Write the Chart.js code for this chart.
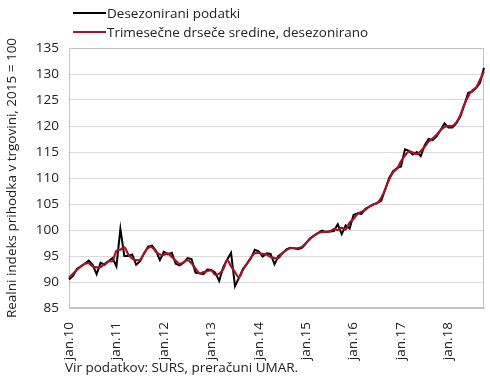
<!DOCTYPE html>
<html>
<head>
<meta charset="utf-8">
<script src="https://cdn.jsdelivr.net/npm/chart.js@4.4.1/dist/chart.umd.min.js"></script>
<style>
  body { margin: 0; background: #fff; font-family: "Open Sans", sans-serif; }
  #wrap { position: relative; width: 490px; height: 382px; }
  #wrap canvas { position: absolute; left: 0; top: 0; }
  .leg { position: absolute; left: 73px; font-size: 13.5px; color: #222; line-height: 18px; white-space: nowrap; }
  .leg span { display: inline-block; width: 33px; height: 2px; vertical-align: middle; margin-right: 1px; position: relative; top: -1px; }
  .note { position: absolute; left: 65px; top: 358px; font-size: 13.5px; color: #222; white-space: nowrap; }
</style>
</head>
<body>
<div id="wrap">
  <canvas id="c" width="490" height="382"></canvas>
  <div class="leg" style="top:4px"><span style="background:#000"></span>Desezonirani podatki</div>
  <div class="leg" style="top:23px"><span style="background:#a3152b"></span>Trimesečne drseče sredine, desezonirano</div>
  <div class="note">Vir podatkov: SURS, preračuni UMAR.</div>
</div>
<script>
const monthNames = ["jan", "feb", "mar", "apr", "maj", "jun", "jul", "avg", "sep", "okt", "nov", "dec"];
const years = ["10", "11", "12", "13", "14", "15", "16", "17", "18"];

// desezonirani podatki, jan.10 - okt.18
const rawIndex = [
  90.5, 91.2, 92.5, 93.0, 93.5, 94.1, 93.3, 91.5, 93.7, 93.3, 94.0, 94.6,
  93.0, 100.2, 95.0, 95.0, 95.3, 93.3, 94.0, 95.5, 96.8, 97.0, 96.0, 94.2,
  95.8, 95.3, 95.6, 93.5, 93.2, 93.7, 94.6, 94.4, 91.8, 91.7, 91.5, 92.4,
  92.3, 91.8, 90.2, 92.8, 94.3, 95.6, 89.2, 90.8, 92.5, 93.5, 94.5, 96.2,
  95.9, 94.9, 95.5, 95.4, 93.4, 95.0, 95.5, 96.3, 96.6, 96.5, 96.3, 96.6,
  97.5, 98.4, 98.9, 99.4, 99.9, 99.6, 99.7, 99.8, 101.1, 99.2, 100.9, 100.3,
  102.9, 103.2, 103.1, 104.1, 104.5, 104.9, 105.2, 105.6, 107.8, 110.0, 111.3, 111.9,
  112.2, 115.5, 115.2, 114.5, 115.0, 114.2, 116.3, 117.5, 117.3, 118.0, 119.2, 120.5,
  119.7, 119.7, 120.5, 121.8, 124.0, 126.4, 126.6, 127.3, 128.3, 131.2
];

// trimesečne drseče sredine
const movingAvg = [
  90.8, 91.6, 92.3, 93.0, 93.5, 93.6, 93.0, 92.8, 92.9, 93.5, 94.0, 94.0,
  96.0, 96.2, 96.7, 95.3, 94.5, 94.2, 94.3, 95.5, 96.5, 96.7, 95.8, 95.3,
  95.2, 95.5, 94.8, 94.1, 93.5, 93.8, 94.2, 93.6, 92.6, 91.7, 91.9, 92.1,
  92.2, 91.4, 91.6, 92.4, 94.2, 93.0, 91.9, 90.9, 92.3, 93.5, 94.7, 95.5,
  95.6, 95.4, 95.3, 94.8, 94.6, 94.6, 95.6, 96.1, 96.5, 96.5, 96.5, 96.8,
  97.5, 98.3, 98.9, 99.4, 99.6, 99.7, 99.7, 100.2, 100.0, 100.4, 100.1, 101.4,
  102.1, 103.1, 103.5, 103.9, 104.5, 104.9, 105.2, 106.2, 107.8, 109.7, 111.1, 111.8,
  113.2, 114.3, 115.1, 114.9, 114.6, 115.2, 116.0, 117.0, 117.6, 118.3, 119.2, 119.8,
  120.0, 120.0, 120.7, 122.1, 124.1, 125.7, 126.8, 127.4, 128.9, 130.5
];

const labels = [];
years.forEach(y => monthNames.forEach(m => labels.push(m + "." + y)));
labels.length = rawIndex.length;

const frame = {
  id: "frame",
  beforeDatasetsDraw(chart) {
    const { ctx, chartArea: a } = chart;
    ctx.save();
    ctx.strokeStyle = "#c4c4c4";
    ctx.lineWidth = 1;
    ctx.strokeRect(Math.round(a.left) + 0.5, Math.round(a.top) + 0.5, Math.round(a.width) - 1, Math.round(a.height) - 1);
    ctx.restore();
  }
};

Chart.defaults.font.family = '"Open Sans", sans-serif';
Chart.defaults.color = "#222";

new Chart(document.getElementById("c"), {
  type: "line",
  data: {
    labels: labels,
    datasets: [
      {
        label: "Trimesečne drseče sredine, desezonirano",
        data: movingAvg,
        borderColor: "#a3152b",
        borderWidth: 2.2,
        pointRadius: 0,
        tension: 0.35,
        order: 0
      },
      {
        label: "Desezonirani podatki",
        data: rawIndex,
        borderColor: "#000",
        borderWidth: 2,
        pointRadius: 0,
        tension: 0,
        order: 1
      }
    ]
  },
  options: {
    responsive: false,
    animation: false,
    layout: { padding: { top: 48, right: 6, left: 0, bottom: 0 } },
    plugins: { legend: { display: false }, tooltip: { enabled: false } },
    scales: {
      x: {
        grid: { display: false },
        border: { color: "#c4c4c4" },
        ticks: {
          autoSkip: false,
          maxRotation: 90,
          minRotation: 90,
          padding: 6,
          font: { size: 13.5 },
          callback: (v, i) => (i % 12 === 0 ? labels[i] : null)
        },
        afterFit: s => { s.height = 74; }
      },
      y: {
        min: 85,
        max: 135,
        ticks: { stepSize: 5, font: { size: 13.5 }, padding: 10 },
        grid: { color: "#d9d9d9", drawTicks: false },
        border: { color: "#c4c4c4" },
        title: { display: true, text: "Realni indeks prihodka v trgovini, 2015 = 100", font: { size: 13.5 }, padding: { top: 4, bottom: 0 } },
        afterFit: s => { s.width = 69; }
      }
    }
  },
  plugins: [frame]
});
</script>
</body>
</html>
